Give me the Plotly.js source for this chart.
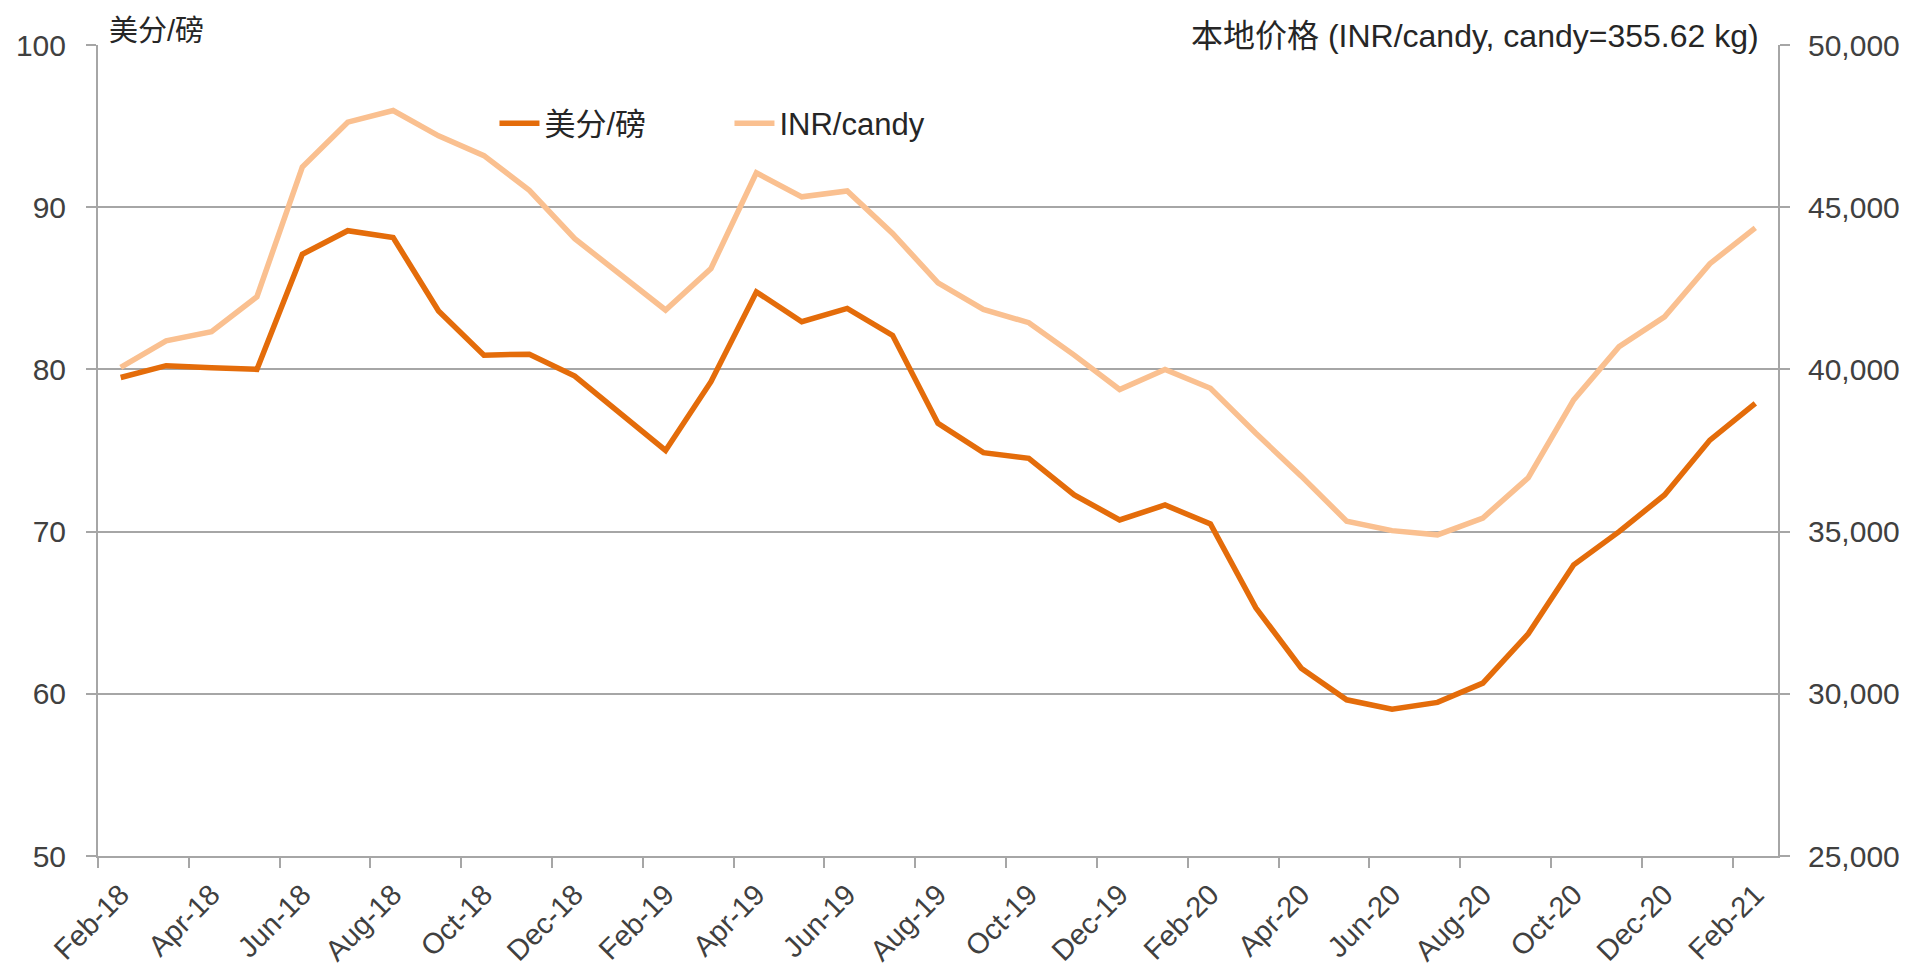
<!DOCTYPE html>
<html>
<head>
<meta charset="utf-8">
<script src="https://cdn.plot.ly/plotly-3.0.1.min.js"></script>
<style>html,body{margin:0;padding:0;background:#fff;}#chart{width:1910px;height:975px;}</style>
</head>
<body>
<div id="chart"></div>
<script>
const months = ['Feb-18','Mar-18','Apr-18','May-18','Jun-18','Jul-18','Aug-18','Sep-18','Oct-18','Nov-18','Dec-18',
  'Jan-19','Feb-19','Mar-19','Apr-19','May-19','Jun-19','Jul-19','Aug-19','Sep-19','Oct-19','Nov-19','Dec-19',
  'Jan-20','Feb-20','Mar-20','Apr-20','May-20','Jun-20','Jul-20','Aug-20','Sep-20','Oct-20','Nov-20','Dec-20',
  'Jan-21','Feb-21'];

const centsPerLb = [79.5, 80.23, 80.1, 80.0, 87.1, 88.55, 88.13, 83.6, 80.88, 80.94, 79.59,
  77.3, 75.0, 79.24, 84.78, 82.94, 83.76, 82.1, 76.67, 74.87, 74.52, 72.26, 70.72,
  71.64, 70.47, 65.3, 61.58, 59.63, 59.05, 59.47, 60.66, 63.7, 67.95, 70.0, 72.26,
  75.64, 77.9];

const inrPerCandy = [40062, 40883, 41160, 42240, 46240, 47620, 47980, 47200, 46590, 45520, 44030,
  42910, 41830, 43110, 46060, 45320, 45500, 44190, 42670, 41850, 41440, 40440, 39380,
  40000, 39420, 38030, 36710, 35320, 35030, 34900, 35420, 36660, 39060, 40700, 41620,
  43260, 44360];

const seriesNames = ['美分/磅', 'INR/candy'];
const leftTitle = '美分/磅';
const rightTitle = '本地价格 (INR/candy, candy=355.62 kg)';

const leftTicks = [50, 60, 70, 80, 90, 100];
const rightTicks = [25000, 30000, 35000, 40000, 45000, 50000];
const rightTickText = rightTicks.map(v => v.toLocaleString('en-US'));

const labelMonths = months.filter((m, i) => i % 2 === 0);
const boundaryTicks = months.map((m, i) => i - 0.5).filter((v, i) => i % 2 === 0);

const FONT = '"Liberation Sans", Arial, "Noto Sans CJK SC", sans-serif';
const darkOrange = '#E46C0A';
const lightOrange = '#FAC090';
const gridGray = '#A6A6A6';
const textGray = '#404040';

const traces = [
  {x: months, y: centsPerLb, name: seriesNames[0], type: 'scatter', mode: 'lines',
   line: {color: darkOrange, width: 5.5}, xaxis: 'x', yaxis: 'y'},
  {x: months, y: inrPerCandy, name: seriesNames[1], type: 'scatter', mode: 'lines',
   line: {color: lightOrange, width: 5.5}, xaxis: 'x', yaxis: 'y2'},
  // empty helper trace so the boundary-tick axis gets drawn
  {x: [], y: [], type: 'scatter', mode: 'lines', xaxis: 'x2', yaxis: 'y',
   showlegend: false, hoverinfo: 'skip'}
];

const layout = {
  width: 1910, height: 975,
  margin: {l: 98, r: 132, t: 45, b: 119, pad: 0},
  paper_bgcolor: '#fff', plot_bgcolor: '#fff',
  font: {family: FONT, size: 30, color: textGray},
  showlegend: true,
  legend: {orientation: 'h', x: 0.236, xanchor: 'left', y: 0.903, yanchor: 'middle',
    font: {family: FONT, size: 31, color: '#262626'}, bgcolor: 'rgba(0,0,0,0)',
    entrywidth: 180, entrywidthmode: 'pixels', itemwidth: 40},
  xaxis: {type: 'category', range: [-0.5, months.length - 0.5], tickmode: 'array',
    tickvals: labelMonths, ticktext: labelMonths, tickangle: -45, ticks: '',
    ticklabelstandoff: 8,
    showgrid: false, zeroline: false, showline: true, linecolor: gridGray, linewidth: 2,
    tickfont: {family: FONT, size: 29, color: textGray}, fixedrange: true},
  xaxis2: {overlaying: 'x', anchor: 'y', side: 'bottom', range: [-0.5, months.length - 0.5],
    tickmode: 'array', tickvals: boundaryTicks, ticktext: boundaryTicks.map(() => ''),
    ticks: 'outside', ticklen: 11, tickwidth: 2, tickcolor: gridGray,
    showgrid: false, zeroline: false, showline: false, showticklabels: false},
  yaxis: {range: [50, 100], tickmode: 'array', tickvals: leftTicks, ticktext: leftTicks.map(String),
    ticks: 'outside', ticklen: 10, tickwidth: 2, tickcolor: gridGray, ticklabelstandoff: 14,
    showgrid: true, gridcolor: gridGray, gridwidth: 2, zeroline: false,
    showline: true, linecolor: gridGray, linewidth: 2,
    tickfont: {family: FONT, size: 30, color: textGray}},
  yaxis2: {range: [25000, 50000], overlaying: 'y', side: 'right', tickmode: 'array',
    tickvals: rightTicks, ticktext: rightTickText,
    ticks: 'outside', ticklen: 10, tickwidth: 2, tickcolor: gridGray, ticklabelstandoff: 12,
    showgrid: false, zeroline: false, showline: true, linecolor: gridGray, linewidth: 2,
    tickfont: {family: FONT, size: 30, color: textGray}},
  annotations: [
    {text: leftTitle, xref: 'paper', yref: 'paper', x: 0.0055, y: 1.0175, xanchor: 'left', yanchor: 'middle',
     showarrow: false, font: {family: FONT, size: 29, color: '#262626'}},
    {text: rightTitle, xref: 'paper', yref: 'paper', x: 0.99, y: 1.011, xanchor: 'right', yanchor: 'middle',
     showarrow: false, font: {family: FONT, size: 32, color: '#262626'}}
  ]
};

Plotly.newPlot('chart', traces, layout, {displayModeBar: false, staticPlot: true});
</script>
</body>
</html>
